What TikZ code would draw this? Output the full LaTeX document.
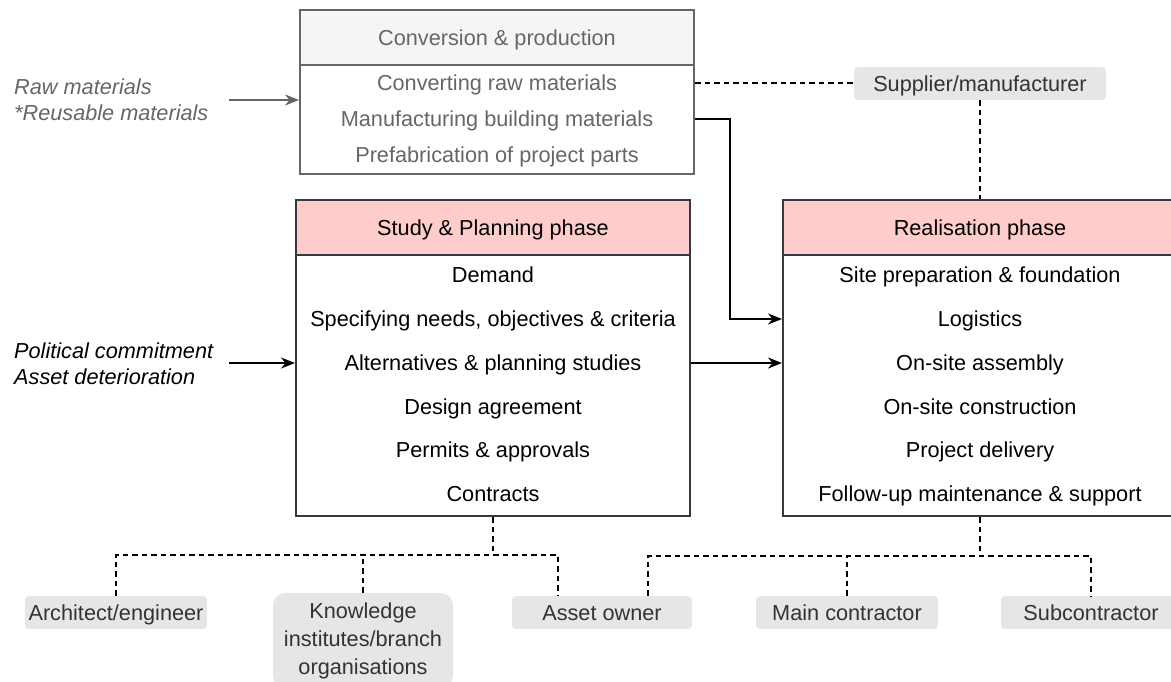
\documentclass[tikz,border=0pt]{standalone}
\usepackage{fontspec}
\setmainfont{Liberation Sans}
\usetikzlibrary{arrows.meta}
\definecolor{pinkhead}{HTML}{FFCCCC}
\definecolor{grayhead}{HTML}{F5F5F5}
\definecolor{graytext}{HTML}{666666}
\definecolor{darkstroke}{HTML}{36393D}
\definecolor{rolefill}{HTML}{E6E6E6}
\definecolor{roletext}{HTML}{333333}
\begin{document}
\begin{tikzpicture}[x=1pt,y=-1pt,
  font=\fontsize{21.7}{26}\selectfont,
  hdr/.style={draw=darkstroke, line width=2pt, fill=pinkhead, minimum width=394pt, minimum height=55pt, text height=15.6pt, text depth=0pt, inner sep=0pt},
  boxbody/.style={draw=darkstroke, line width=2pt, fill=white, minimum width=394pt, minimum height=261pt, inner sep=0pt},
  row/.style={inner sep=0pt, text height=15.6pt, text depth=0pt},
  rolebase/.style={fill=rolefill, text=roletext, rounded corners=4pt, inner sep=0pt},
  role/.style={rolebase, minimum height=33pt, text height=15.6pt, text depth=0pt},
  conn/.style={line width=2pt, -{Stealth[length=14pt,width=11pt]}},
  dl/.style={line width=2pt, dash pattern=on 5.5pt off 4pt},
  sidetext/.style={anchor=west, align=left, inner sep=0pt, font=\fontsize{21.7}{26.5}\selectfont\itshape}
]
\useasboundingbox (0,0) rectangle (1171,681);
\clip (0,0) rectangle (1171,681);

% Conversion & production
\node[boxbody, draw=graytext, minimum height=109pt] (cbody) at (497,119.5) {};
\node[hdr, fill=grayhead, draw=graytext, text=graytext] (chead) at (497,37.5) {Conversion \& production};
\node[row, text=graytext] (c1) at (497,83) {Converting raw materials};
\node[row, text=graytext] (c2) at (497,119) {Manufacturing building materials};
\node[row, text=graytext] (c3) at (497,155) {Prefabrication of project parts};

% Study & Planning
\node[boxbody] (sbody) at (493,385.5) {};
\node[hdr] (shead) at (493,227.5) {Study \& Planning phase};
\node[row] (s1) at (493,275) {Demand};
\node[row] (s2) at (493,319) {Specifying needs, objectives \& criteria};
\node[row] (s3) at (493,363) {Alternatives \& planning studies};
\node[row] (s4) at (493,406.5) {Design agreement};
\node[row] (s5) at (493,450) {Permits \& approvals};
\node[row] (s6) at (493,494) {Contracts};

% Realisation
\node[boxbody] (rbody) at (980,385.5) {};
\node[hdr] (rhead) at (980,227.5) {Realisation phase};
\node[row] (r1) at (980,275) {Site preparation \& foundation};
\node[row] (r2) at (980,319) {Logistics};
\node[row] (r3) at (980,363) {On-site assembly};
\node[row] (r4) at (980,406.5) {On-site construction};
\node[row] (r5) at (980,450) {Project delivery};
\node[row] (r6) at (980,494) {Follow-up maintenance \& support};

% Roles
\node[role, minimum width=252pt] (sup) at (980,83.5) {Supplier/manufacturer};
\node[role, minimum width=182pt] (arch) at (116,612.5) {Architect/engineer};
\node[rolebase, minimum width=180pt, minimum height=95pt, rounded corners=12pt, align=center, font=\fontsize{21.7}{28}\selectfont] (kn) at (363,640.5) {Knowledge\\institutes/branch\\organisations};
\node[role, minimum width=180pt] (owner) at (602,612.5) {Asset owner};
\node[role, minimum width=182pt] (main) at (847,612.5) {Main contractor};
\node[role, minimum width=180pt] (sub) at (1091,612.5) {Subcontractor};

% Side texts
\node[sidetext, text=graytext] (raw) at (14,99.5) {Raw materials\\*Reusable materials};
\node[sidetext] (pol) at (14,363.5) {Political commitment\\Asset deterioration};

% Arrows
\coordinate (rawstart) at (229,100);
\draw[conn, draw=graytext] (rawstart) -- (rawstart -| cbody.west);
\coordinate (polstart) at (229,363);
\draw[conn] (polstart) -- (polstart -| sbody.west);
\draw[conn] (sbody.east |- s3) -- (rbody.west |- s3);
\draw[conn] (cbody.east |- c2) -- ++(35,0) |- (rbody.west |- r2);

% Dashed links
\draw[dl] (cbody.east |- c1) -- (sup.west |- c1);
\draw[dl] (sup.south) -- (rhead.north);
\draw[dl] (sbody.south) -- ++(0,38) coordinate (sj);
\draw[dl] (arch.north) |- (sj) -| ([xshift=-44pt]owner.north);
\draw[dl] (kn.north) -- (kn.north |- sj);
\draw[dl] (rbody.south) -- ++(0,39) coordinate (rj);
\draw[dl] ([xshift=46pt]owner.north) |- (rj) -| (sub.north);
\draw[dl] (main.north) -- (main.north |- rj);
\end{tikzpicture}
\end{document}
